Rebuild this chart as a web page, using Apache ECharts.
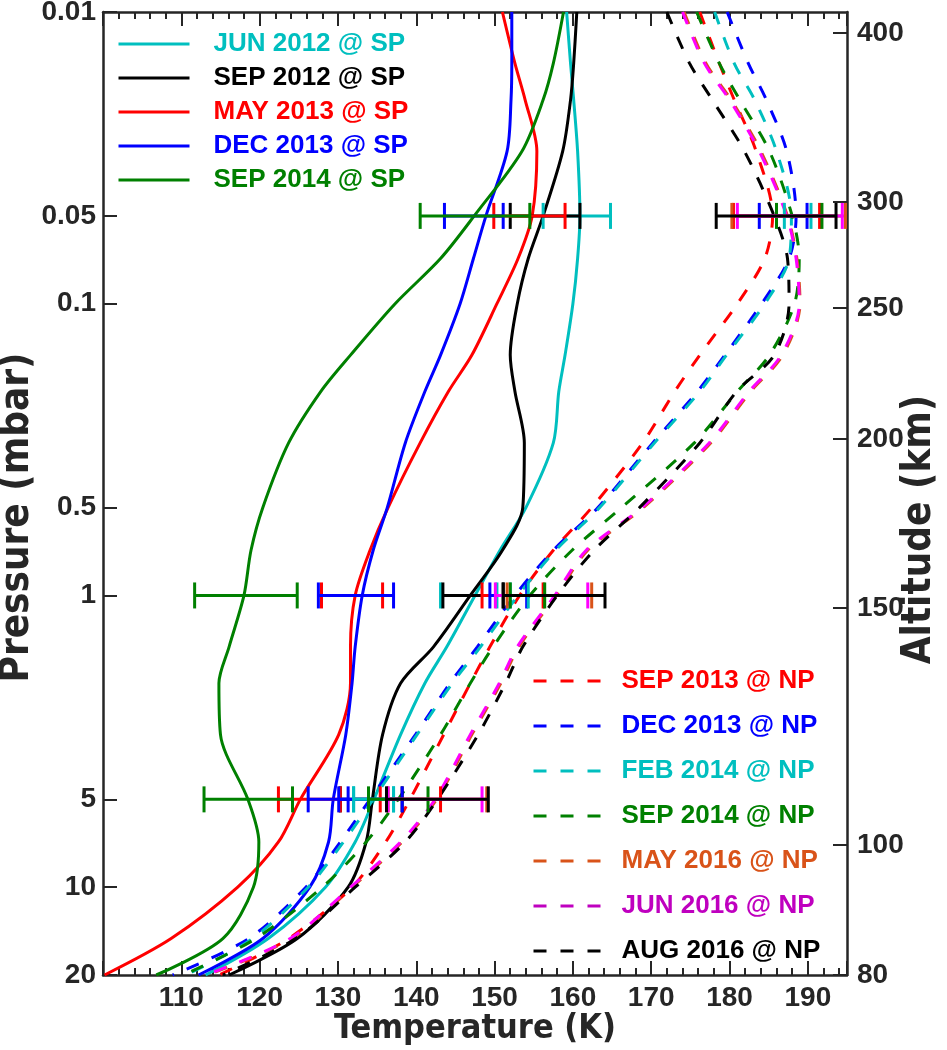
<!DOCTYPE html>
<html><head><meta charset="utf-8">
<script src="https://cdn.jsdelivr.net/npm/echarts@6/dist/echarts.min.js"></script>
<style>html,body{margin:0;padding:0;background:#fff}#c{width:947px;height:1050px}</style>
</head><body><div id="c"></div>
<script>
// ---- data ----
const pressureLevels = [0.01,0.015,0.02,0.03,0.05,0.07,0.1,0.15,0.2,0.3,0.5,0.7,1,1.5,2,3,5,7,10,15,20];

const tJun2012SP = [159.2,159.7,160.1,160.6,160.9,160.6,160.0,159.0,158.2,157.5,154.0,150.7,147.5,143.9,141.1,138.0,134.6,132.2,128.4,121.1,113.1];
const tSep2012SP = [160.5,160.1,159.7,158.7,156.2,154.3,152.9,152.0,152.6,153.8,153.6,151.0,146.9,142.2,138.0,135.7,134.4,133.6,131.3,124.8,116.1];
const tMay2013SP = [151.0,152.6,153.9,155.4,154.8,153.0,150.3,147.1,144.1,140.5,136.4,134.1,132.2,131.6,131.6,130.1,125.2,122.4,117.2,108.7,100.2];
const tDec2013SP = [152.2,152.2,152.1,151.6,148.9,147.3,145.6,143.1,141.1,138.6,136.3,134.5,133.1,132.2,131.8,131.0,129.4,128.8,126.4,120.4,112.2];
const tSep2014SP = [158.8,157.5,156.2,153.5,147.4,143.1,137.3,131.6,127.8,123.7,120.4,118.9,118.0,116.1,114.8,115.0,118.5,119.9,119.2,115.3,106.8];

const tSep2013NP = [176.2,178.7,180.6,183.4,185.5,184.5,181.0,176.2,173.0,168.9,162.4,157.5,153.2,149.4,146.9,143.5,139.2,136.1,131.8,123.7,114.8];
const tDec2013NP = [179.7,182.4,184.7,187.3,188.5,187.6,184.1,179.4,175.9,170.2,163.2,157.5,152.6,147.8,144.3,139.9,134.1,130.3,125.9,118.6,108.9];
const tFeb2014NP = [178.1,180.6,183.2,186.0,187.9,187.6,184.5,179.6,176.2,170.4,163.4,157.8,153.0,148.2,144.6,140.1,134.5,130.7,126.2,119.1,110.6];
const tSep2014NP = [175.8,178.7,181.3,185.1,188.0,188.9,188.3,185.1,181.0,175.5,166.2,159.9,154.5,149.8,146.9,143.1,137.7,133.6,128.0,119.5,110.3];
const tMay2016NP = [174.2,177.0,180.2,184.0,187.4,188.6,189.0,186.8,182.7,177.6,169.0,161.9,157.9,153.1,150.8,147.1,142.6,138.2,131.8,124.1,113.3];
const tJun2016NP = [174.0,176.8,180.0,183.8,187.3,188.5,188.9,186.6,182.5,177.4,168.8,161.7,157.7,152.9,150.6,146.9,142.4,138.0,131.6,123.9,113.1];
const tAug2016NP = [172.0,174.9,177.8,181.9,185.7,187.4,187.6,185.7,180.9,176.2,168.5,162.7,158.0,153.6,151.4,147.9,142.7,138.6,132.2,124.6,115.3];

// error bars: [low T, high T, pressure]
const errJun2012SP = [[156.2,164.8,0.05],[143.1,152.0,1],[132.0,137.1,5]];
const errSep2012SP = [[152.0,160.9,0.05],[143.4,151.1,1],[130.3,138.2,5]];
const errMay2013SP = [[149.9,159.0,0.05],[127.9,135.7,1],[122.4,130.3,5]];
const errDec2013SP = [[143.6,151.1,0.05],[127.5,137.1,1],[126.2,131.3,5]];
const errSep2014SP = [[140.5,154.5,0.05],[111.7,124.8,1],[112.9,124.2,5]];
const errSep2013NP = [[180.5,191.5,0.05],[148.4,156.2,1],[135.4,143.1,5]];
const errDec2013NP = [[183.8,189.9,0.05],[149.4,154.1,1],[130.1,138.2,5]];
const errFeb2014NP = [[187.0,190.4,0.05],[150.3,154.3,1],[132.0,137.1,5]];
const errSep2014NP = [[186.0,191.8,0.05],[152.0,156.4,1],[133.9,141.5,5]];
const errMay2016NP = [[180.3,194.8,0.05],[151.6,162.4,1],[136.4,149.0,5]];
const errJun2016NP = [[181.0,194.4,0.05],[150.1,161.9,1],[136.4,148.4,5]];
const errAug2016NP = [[178.3,193.6,0.05],[151.1,164.1,1],[136.2,149.2,5]];

const pressureTicks = [0.01,0.05,0.1,0.5,1,5,10,20];
const pressureTickLabels = ['0.01','0.05','0.1','0.5','1','5','10','20'];
const altitudeTickLabels = ['400','300','250','200','150','100','80'];
const altitudeTickPressures = [0.0118,0.0448,0.1034,0.291,1.105,7.17,20];

// ---- chart ----
const AX = '#262626';
const defs = [
  {name:'JUN 2012 @ SP', t:tJun2012SP, err:errJun2012SP, color:'#00bfbf', dash:false},
  {name:'SEP 2012 @ SP', t:tSep2012SP, err:errSep2012SP, color:'#000000', dash:false},
  {name:'MAY 2013 @ SP', t:tMay2013SP, err:errMay2013SP, color:'#ff0000', dash:false},
  {name:'DEC 2013 @ SP', t:tDec2013SP, err:errDec2013SP, color:'#0000ff', dash:false},
  {name:'SEP 2014 @ SP', t:tSep2014SP, err:errSep2014SP, color:'#008000', dash:false},
  {name:'SEP 2013 @ NP', t:tSep2013NP, err:errSep2013NP, color:'#ff0000', dash:true},
  {name:'DEC 2013 @ NP', t:tDec2013NP, err:errDec2013NP, color:'#0000ff', dash:true},
  {name:'FEB 2014 @ NP', t:tFeb2014NP, err:errFeb2014NP, color:'#00bfbf', dash:true},
  {name:'SEP 2014 @ NP', t:tSep2014NP, err:errSep2014NP, color:'#008000', dash:true},
  {name:'MAY 2016 @ NP', t:tMay2016NP, err:errMay2016NP, color:'#d95319', dash:true},
  {name:'JUN 2016 @ NP', t:tJun2016NP, err:errJun2016NP, color:'#ff00ff', dash:true, legendColor:'#bf00bf'},
  {name:'AUG 2016 @ NP', t:tAug2016NP, err:errAug2016NP, color:'#000000', dash:true}
];

const series = [];
defs.forEach(d => {
  series.push({
    name: d.name, type:'line', xAxisIndex:0, yAxisIndex:0,
    data: pressureLevels.map((p,i)=>[d.t[i], p]),
    symbol:'none', smooth:0.3, z:2,
    lineStyle:{color:d.color, width:3, type: d.dash ? [13,14] : 'solid'},
    itemStyle:{color:d.color}, silent:true, animation:false
  });
});
defs.forEach(d => {
  series.push({
    name: d.name + ' bars', type:'custom', xAxisIndex:0, yAxisIndex:0,
    data: d.err, encode:{x:[0,1], y:2}, z:3, silent:true, animation:false,
    renderItem: function(params, api){
      const lo = api.coord([api.value(0), api.value(2)]);
      const hi = api.coord([api.value(1), api.value(2)]);
      const h = 13;
      const st = {stroke:d.color, lineWidth:3, fill:null};
      return {type:'group', children:[
        {type:'line', shape:{x1:lo[0],y1:lo[1],x2:hi[0],y2:hi[1]}, style:st},
        {type:'line', shape:{x1:lo[0],y1:lo[1]-h,x2:lo[0],y2:lo[1]+h}, style:st},
        {type:'line', shape:{x1:hi[0],y1:hi[1]-h,x2:hi[0],y2:hi[1]+h}, style:st}
      ]};
    }
  });
});

function nearestLabel(v, vals, labels){
  let bi = 0, bd = Infinity;
  vals.forEach((x,i)=>{ const dd = Math.abs(Math.log10(x) - Math.log10(v)); if (dd < bd){bd = dd; bi = i;} });
  return labels[bi];
}

const tickFont = {fontSize:28, fontWeight:'bold', fontFamily:'Liberation Sans, Arial, sans-serif', color:AX};
const condensed = 'Liberation Sans Narrow, DejaVu Sans Condensed, sans-serif';
const axLine = {show:true, onZero:false, lineStyle:{color:AX, width:2.5}};
const tickSt = {color:AX, width:2};

function legendItems(list){
  return list.map(d => ({name:d.name, textStyle:{color:d.legendColor||d.color},
    lineStyle:{color:d.legendColor||d.color, width:3, type: d.dash ? [13,14] : 'solid'},
    itemStyle:{color:d.legendColor||d.color, opacity:0}}));
}

const option = {
  backgroundColor:'#ffffff',
  animation:false,
  grid:{left:103, right:100, top:12, bottom:75, containLabel:false, outerBoundsMode:'none'},
  legend:[
    {orient:'vertical', left:112, top:26, itemWidth:71, itemHeight:14, itemGap:8,
     selectedMode:false,
     textStyle:{fontSize:26, fontWeight:'bold', fontFamily:'Liberation Sans, Arial, sans-serif', lineHeight:24, padding:[0,0,0,19]},
     data: legendItems(defs.slice(0,5))},
    {orient:'vertical', left:527, top:663, itemWidth:68, itemHeight:14, itemGap:19,
     selectedMode:false,
     textStyle:{fontSize:26, fontWeight:'bold', fontFamily:'Liberation Sans, Arial, sans-serif', lineHeight:24, padding:[0,0,0,15]},
     data: legendItems(defs.slice(5))}
  ],
  xAxis:[
    {type:'value', min:100, max:195, interval:10, position:'bottom',
     name:'Temperature (K)', nameLocation:'middle', nameGap:37, nameMoveOverlap:false,
     nameTextStyle:{fontSize:34, fontWeight:'bold', fontFamily:condensed, color:AX},
     axisLine:axLine, axisTick:{show:true, inside:true, length:14, lineStyle:tickSt},
     minorTick:{show:true, splitNumber:5, length:7, lineStyle:tickSt},
     axisLabel:{...tickFont, margin:9, showMinLabel:false, showMaxLabel:false,
       formatter: v => (v===100||v===195) ? '' : String(v)},
     splitLine:{show:false}},
    {type:'value', min:100, max:195, interval:10, position:'top',
     axisLine:axLine, axisTick:{show:true, inside:true, length:14, lineStyle:tickSt},
     minorTick:{show:true, splitNumber:5, length:7, lineStyle:tickSt},
     axisLabel:{show:false}, splitLine:{show:false}}
  ],
  yAxis:[
    {type:'log', logBase:10, min:0.01, max:20, inverse:true, position:'left',
     name:'Pressure (mbar)', nameLocation:'middle', nameRotate:90, nameGap:65, nameMoveOverlap:false,
     nameTextStyle:{fontSize:40, fontWeight:'bold', fontFamily:condensed, color:AX, padding:[0,48,0,0]},
     axisLine:axLine,
     axisTick:{show:true, inside:true, length:14, lineStyle:tickSt, customValues:pressureTicks},
     axisLabel:{...tickFont, margin:7, customValues:pressureTicks,
       formatter: v => nearestLabel(v, pressureTicks, pressureTickLabels)},
     minorTick:{show:false}, splitLine:{show:false}},
    {type:'log', logBase:10, min:0.01, max:20, inverse:true, position:'right',
     name:'Altitude (km)', nameLocation:'middle', nameRotate:90, nameGap:53, nameMoveOverlap:false,
     nameTextStyle:{fontSize:40, fontWeight:'bold', fontFamily:condensed, color:AX, padding:[0,72,0,0]},
     axisLine:axLine,
     axisTick:{show:true, inside:true, length:14, lineStyle:tickSt, customValues:altitudeTickPressures},
     axisLabel:{...tickFont, margin:10, customValues:altitudeTickPressures,
       formatter: v => nearestLabel(v, altitudeTickPressures, altitudeTickLabels)},
     minorTick:{show:false}, splitLine:{show:false}}
  ],
  series: series
};

const chart = echarts.init(document.getElementById('c'), null, {renderer:'canvas'});
chart.setOption(option);
</script>
</body></html>
